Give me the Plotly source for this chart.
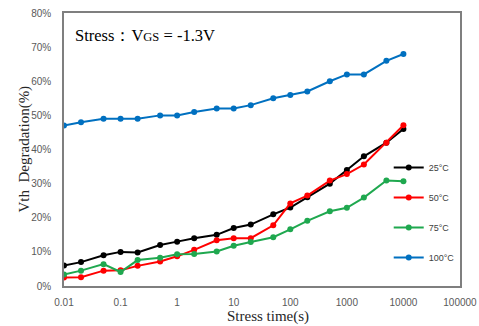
import plotly.graph_objects as go

stress_time = [0.01, 0.02, 0.05, 0.1, 0.2, 0.5, 1, 2, 5, 10, 20, 50, 100, 200, 500, 1000, 2000, 5000, 10000]
deg_25 = [6, 7, 9, 10, 9.8, 12, 13, 14, 15, 17, 18, 21, 23, 26, 30, 34, 38, 42, 46]
deg_50 = [2.5, 2.6, 4.5, 4.6, 5.9, 7.2, 8.7, 10.6, 13.4, 14, 14, 17.8, 24.2, 26.5, 30.9, 32.8, 35.6, 42, 47.1]
deg_75 = [3.4, 4.5, 6.4, 4.1, 7.6, 8.3, 9.3, 9.4, 10.1, 11.8, 12.9, 14.3, 16.6, 19.1, 21.9, 22.9, 25.9, 30.9, 30.7]
deg_100 = [47, 48, 49, 49, 49, 50, 50, 51, 52, 52, 53, 55, 56, 57, 60, 62, 62, 66, 68]

series_names = ["25°C", "50°C", "75°C", "100°C"]
series_colors = ["#000000", "#FF0000", "#1FA84F", "#0070C0"]
x_tickvals = [0.01, 0.1, 1, 10, 100, 1000, 10000, 100000]
x_ticktext = ["0.01", "0.1", "1", "10", "100", "1000", "10000", "100000"]

fig = go.Figure()
for name, vals, col in zip(series_names, [deg_25, deg_50, deg_75, deg_100], series_colors):
    fig.add_trace(go.Scatter(
        x=stress_time, y=vals, name=name, mode="lines+markers",
        line=dict(color=col, width=2), marker=dict(color=col, size=6),
        legendgroup=name,
    ))

tick_font = dict(family="Liberation Sans", size=10, color="#595959")
serif = "Liberation Serif"

fig.update_layout(
    width=479, height=326,
    margin=dict(l=64, r=19, t=13, b=40, autoexpand=False),
    paper_bgcolor="white", plot_bgcolor="white",
    showlegend=True,
    legend=dict(x=0.82, y=0.487, xanchor="left", yanchor="top",
                bgcolor="rgba(0,0,0,0)", font=dict(family="Liberation Sans", size=9, color="#404040"),
                tracegroupgap=11),
    xaxis=dict(type="log", range=[-2, 5], tickvals=x_tickvals, ticktext=x_ticktext,
               showgrid=False, zeroline=False, showline=True, linecolor="#7f7f7f", linewidth=1.5,
               mirror=True, ticks="outside", ticklen=6, tickcolor="rgba(0,0,0,0)", tickfont=tick_font,
               automargin=False),
    yaxis=dict(range=[0, 80], dtick=10, ticksuffix="%",
               showgrid=False, zeroline=False, showline=True, linecolor="#7f7f7f", linewidth=1.5,
               mirror=True, ticks="outside", ticklen=9, tickcolor="rgba(0,0,0,0)", tickfont=tick_font,
               automargin=False),
    annotations=[
        dict(text="Stress：V<span style='font-size:12.5px'>GS</span> = -1.3V",
             xref="paper", yref="paper", x=0.022, y=0.958, xanchor="left", yanchor="top",
             showarrow=False, font=dict(family=serif, size=16.5, color="#000000")),
        dict(text="Stress time(s)", xref="paper", yref="paper", x=0.515, y=-0.11,
             xanchor="center", yanchor="middle", showarrow=False,
             font=dict(family=serif, size=15, color="#262626")),
        dict(text="Vth  Degradation(%)", xref="paper", yref="paper", x=-0.101, y=0.5,
             xanchor="center", yanchor="middle", textangle=-90, showarrow=False,
             font=dict(family=serif, size=15, color="#262626")),
    ],
)

fig.write_html("out.html", config={"displayModeBar": False},
               post_script="document.body.style.margin='0';document.body.style.overflow='hidden';")
